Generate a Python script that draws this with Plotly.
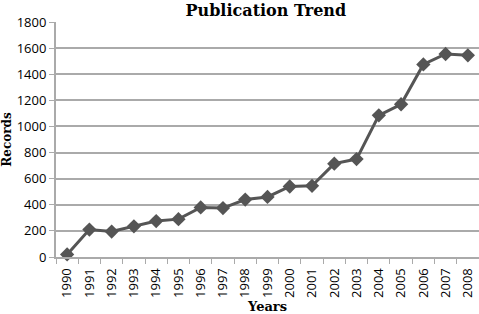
import plotly.graph_objects as go

years = [str(y) for y in range(1990, 2009)]
records = [20, 210, 195, 235, 275, 290, 380, 375, 440, 460, 540, 545, 715, 750, 1085, 1170, 1475, 1555, 1545]
y_ticks = [0, 200, 400, 600, 800, 1000, 1200, 1400, 1600, 1800]

fig = go.Figure(go.Scatter(
    x=years, y=records, mode="lines+markers",
    line=dict(color="#555555", width=3),
    marker=dict(symbol="diamond", size=11, color="#555555"),
    cliponaxis=False,
))

fig.update_layout(
    width=479, height=314,
    margin=dict(l=56, r=0, t=22, b=57, autoexpand=False),
    paper_bgcolor="white", plot_bgcolor="white",
    showlegend=False,
    title=dict(text="<b>Publication Trend</b>", x=0.555, xanchor="center", y=0.985, yanchor="top",
               font=dict(family="DejaVu Serif", size=16, color="black")),
    font=dict(family="Open Sans", size=13, color="black"),
)
fig.update_xaxes(
    type="category", range=[-0.5, len(years) - 0.5], tickangle=-90, tickson="boundaries",
    ticks="outside", ticklen=5, tickcolor="#aaaaaa", ticklabelstandoff=4,
    showline=True, linecolor="#aaaaaa", linewidth=2,
    showgrid=False, automargin=False,
    title=dict(text="<b>Years</b>", font=dict(family="DejaVu Serif", size=13), standoff=10),
    tickfont=dict(size=13),
)
fig.update_yaxes(
    range=[0, 1800], tickvals=y_ticks,
    ticks="outside", ticklen=5, tickcolor="#aaaaaa",
    showline=True, linecolor="#aaaaaa", linewidth=2,
    showgrid=True, gridcolor="#aaaaaa", gridwidth=2,
    zeroline=False, automargin=False,
    title=dict(text="<b>Records</b>", font=dict(family="DejaVu Serif", size=12), standoff=4),
    tickfont=dict(size=13),
)

fig.write_html("out.html", config={"displayModeBar": False},
               post_script="document.body.style.margin='0';document.body.style.overflow='hidden';")
